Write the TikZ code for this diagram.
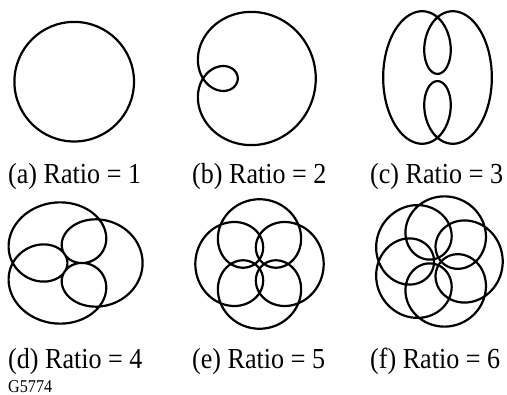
\documentclass[tikz,border=0pt]{standalone}
\usepackage{fontspec}
\setmainfont{Liberation Serif}[FakeStretch=0.9]
\newcommand{\trochcurve}[6]{% cx, cy, sx, sy, n, c
  \draw[curve] plot[domain=0:360, samples=721, variable=\t]
    ({#1+#3*(cos(\t)+#6*cos(#5*\t))},{#2+#4*(sin(\t)+#6*sin(#5*\t))});}
\begin{document}
\begin{tikzpicture}[x=1pt,y=-1pt,
  curve/.style={line width=2.2pt, line join=round},
  lbl/.style={anchor=base west, inner sep=0pt, font=\fontsize{29}{31}\selectfont},
  code/.style={anchor=base west, inner sep=0pt, font=\fontsize{18}{20}\selectfont}]
\useasboundingbox (0,0) rectangle (507,395);
% (a)
\draw[curve] (74.2,81.7) circle[radius=59.8];
% (b)
\trochcurve{239.9}{78.5}{39}{39}{2}{0.945}
% (c)
\trochcurve{437.5}{77.5}{28.3}{45.3}{3}{0.92}
% (d)
\trochcurve{70.4}{263}{37.6}{32.8}{4}{0.92}
% (e)
\trochcurve{259.5}{264}{33.6}{33.9}{5}{0.91}
% (f)
\trochcurve{437.2}{261.5}{34.3}{34.7}{6}{0.91}
% labels
\node[lbl] (la) at (8,184) {(a) Ratio = 1};
\node[lbl] (lb) at (192,184) {(b) Ratio = 2};
\node[lbl] (lc) at (370,184) {(c) Ratio = 3};
\node[lbl] (ld) at (8,369) {(d) Ratio = 4};
\node[lbl] (le) at (192,369) {(e) Ratio = 5};
\node[lbl] (lf) at (370,369) {(f) Ratio = 6};
\node[code] (g) at (8,392.5) {G5774};
\end{tikzpicture}
\end{document}
